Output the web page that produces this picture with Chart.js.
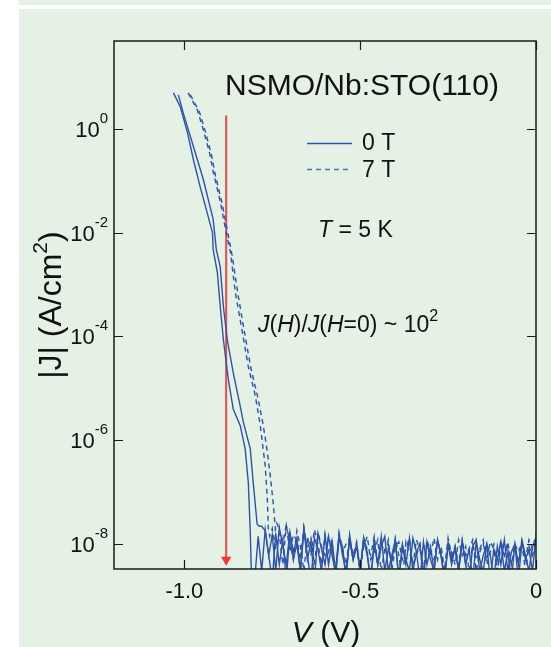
<!DOCTYPE html>
<html>
<head>
<meta charset="utf-8">
<script src="https://cdn.jsdelivr.net/npm/chart.js@4.4.0/dist/chart.umd.min.js"></script>
<style>
  body { margin: 0; background: #fff; }
  #strip { position: absolute; left: 19px; top: 0; width: 532px; height: 5px; background: #e6f1e5; }
  #panel { position: absolute; left: 19px; top: 9px; width: 532px; height: 638px; background: #e6f1e5; }
  #chart { position: absolute; left: 0; top: 0; }
</style>
</head>
<body>
<div id="strip"></div>
<div id="panel"></div>
<canvas id="chart" width="551" height="647"></canvas>
<script>
// axis ticks
const X_TICKS = [-1.0, -0.5, 0];
const X_TICK_LABELS = ['-1.0', '-0.5', '0'];
const Y_TICKS = [1, 1e-2, 1e-4, 1e-6, 1e-8];
const Y_TICK_EXP = ['0', '-2', '-4', '-6', '-8'];

// 0 T, two sweeps: steep part (V in volts, |J| in A/cm2)
const V_0T_A = [-1.031, -1.011, -0.991, -0.974, -0.955, -0.935, -0.920, -0.918, -0.906, -0.898, -0.889, -0.875, -0.861, -0.841, -0.827, -0.818, -0.8125, -0.810, -0.805];
const J_0T_A = [4.9, 2.6, 0.83, 0.25, 0.076, 0.024, 0.01, 0.0047, 0.0017, 3.8e-4, 8.7e-5, 1.5e-5, 4.0e-6, 1.9e-6, 6.8e-7, 1.5e-7, 1.7e-8, 3.8e-9, 2e-9];
const V_0T_B = [-1.017, -1.003, -0.974, -0.946, -0.918, -0.909, -0.898, -0.889, -0.878, -0.861, -0.841, -0.832, -0.8125, -0.804, -0.793, -0.787];
const J_0T_B = [4.5, 2.0, 0.45, 0.105, 0.018, 0.0047, 0.0022, 3.8e-4, 8.7e-5, 2.0e-5, 4.5e-6, 2.2e-6, 6.8e-7, 1.5e-7, 2.4e-8, 2.2e-8];

// 7 T, two sweeps
const V_7T_A = [-0.989, -0.963, -0.946, -0.929, -0.918, -0.898, -0.881, -0.869, -0.855, -0.835, -0.818, -0.798, -0.784, -0.770, -0.764, -0.761, -0.757];
const J_7T_A = [4.9, 2.3, 0.95, 0.36, 0.15, 0.04, 0.01, 0.0042, 7.1e-4, 1.2e-4, 2.6e-5, 7.1e-6, 1.9e-6, 3.2e-7, 7.4e-8, 1.9e-8, 1.4e-8];
const V_7T_B = [-0.983, -0.957, -0.940, -0.923, -0.912, -0.892, -0.875, -0.864, -0.847, -0.827, -0.810, -0.790, -0.776, -0.767, -0.756, -0.747, -0.741, -0.737];
const J_7T_B = [4.5, 2.1, 0.87, 0.32, 0.13, 0.035, 0.0087, 0.0036, 6.2e-4, 1.0e-4, 2.3e-5, 6.2e-6, 2.0e-6, 8.3e-7, 2.2e-7, 5.9e-8, 1.9e-8, 2.5e-8];

// noise floor, voltage steps and |J| in nA/cm2 (each series ends at 0 V)
const NOISE_V = [-0.80, -0.79, -0.78, -0.77, -0.76, -0.75, -0.74, -0.73, -0.72, -0.71,
  -0.70, -0.69, -0.68, -0.67, -0.66, -0.65, -0.64, -0.63, -0.62, -0.61,
  -0.60, -0.59, -0.58, -0.57, -0.56, -0.55, -0.54, -0.53, -0.52, -0.51,
  -0.50, -0.49, -0.48, -0.47, -0.46, -0.45, -0.44, -0.43, -0.42, -0.41,
  -0.40, -0.39, -0.38, -0.37, -0.36, -0.35, -0.34, -0.33, -0.32, -0.31,
  -0.30, -0.29, -0.28, -0.27, -0.26, -0.25, -0.24, -0.23, -0.22, -0.21,
  -0.20, -0.19, -0.18, -0.17, -0.16, -0.15, -0.14, -0.13, -0.12, -0.11,
  -0.10, -0.09, -0.08, -0.07, -0.06, -0.05, -0.04, -0.03, -0.02, -0.01, 0.00];
const NOISE_0T_A = [2, 14, 3, 19, 6, 2, 16, 4, 12, 2,
  17, 5, 10, 3, 20, 6, 2, 13, 8, 3,
  15, 4, 11, 2, 16, 6, 3, 12, 5, 9,
  3, 13, 6, 2, 11, 4, 14, 3, 8, 5,
  12, 2, 9, 4, 13, 3, 7, 10, 2, 11,
  5, 3, 12, 6, 2, 10, 4, 9, 3, 12,
  4, 8, 2, 11, 5, 3, 10, 6, 2, 9,
  4, 12, 3, 7, 10, 2, 11, 5, 8, 3, 14];
const NOISE_0T_B = [22, 18, 6, 15, 3, 21, 9, 4, 17, 7,
  13, 3, 19, 5, 11, 2, 16, 8, 4, 14,
  6, 3, 12, 9, 2, 15, 5, 10, 3, 13,
  7, 2, 11, 4, 9, 14, 3, 6, 12, 2,
  10, 5, 3, 13, 7, 2, 11, 4, 9, 3,
  12, 6, 2, 10, 5, 8, 3, 11, 4, 2,
  9, 12, 3, 6, 10, 2, 8, 5, 11, 3,
  7, 2, 10, 4, 12, 6, 3, 9, 11];
const NOISE_7T_A = [20, 8, 16, 4, 23, 11, 5, 18, 9, 3,
  14, 6, 19, 10, 4, 15, 7, 12, 3, 16,
  8, 4, 13, 6, 11, 3, 9, 14, 5, 7,
  12, 3, 8, 10, 4, 13, 6, 2, 11, 7,
  4, 12, 8, 3, 10, 6, 13, 5, 9, 3,
  11, 7, 4, 12, 6, 9, 3, 10, 5, 8,
  12, 4, 7, 10, 3, 9, 6, 11, 4, 8,
  5, 10, 3, 9, 6, 12];
const NOISE_7T_B = [19, 10, 24, 7, 15, 12, 5, 21, 8, 13,
  4, 17, 9, 6, 14, 11, 3, 15, 7, 10,
  13, 5, 9, 3, 12, 8, 6, 14, 4, 10,
  7, 12, 3, 9, 11, 5, 8, 13, 4, 6,
  10, 3, 12, 7, 5, 11, 8, 3, 13, 6,
  9, 4, 11, 6, 8, 12, 3, 7, 10, 5,
  11, 8, 3, 12, 6, 9, 4, 10, 7, 11,
  5, 12, 8, 16];

// red arrow at the 10^2 comparison voltage
const ARROW_V = [-0.881, -0.881];
const ARROW_J = [1.8, 5.0e-9];

const FONT = '"Liberation Sans", Arial, Helvetica, sans-serif';
const BLUE = '#2c52aa';
const INK = '#111';

function series(vs, js, noise) {
  const pts = vs.map((v, i) => ({ x: v, y: js[i] }));
  const off = NOISE_V.length - noise.length;
  noise.forEach((n, i) => pts.push({ x: NOISE_V[off + i], y: n * 1e-9 }));
  return pts;
}

function setFont(ctx, size, italic) {
  ctx.font = (italic ? 'italic ' : '') + size + 'px ' + FONT;
}

// parts: {t, i (italic), s (superscript)}
function drawRich(ctx, parts, x, y, size, align, supSize, supRise) {
  let w = 0;
  parts.forEach(p => { setFont(ctx, p.s ? supSize : size, p.i); p.w = ctx.measureText(p.t).width; w += p.w; });
  let cx = align === 'right' ? x - w : align === 'center' ? x - w / 2 : x;
  ctx.textAlign = 'left';
  ctx.textBaseline = 'alphabetic';
  parts.forEach(p => {
    setFont(ctx, p.s ? supSize : size, p.i);
    ctx.fillText(p.t, cx, p.s ? y - supRise : y);
    cx += p.w;
  });
}

const framePlugin = {
  id: 'frame',
  afterDraw(chart) {
    const ctx = chart.ctx;
    const a = chart.chartArea;
    const xs = chart.scales.x, ys = chart.scales.y;
    ctx.save();
    ctx.fillStyle = INK;
    ctx.strokeStyle = '#1a1a1a';
    ctx.lineWidth = 1.5;
    ctx.strokeRect(a.left, a.top, a.right - a.left, a.bottom - a.top);

    // inward ticks on all four sides
    const L = 9;
    ctx.beginPath();
    X_TICKS.forEach(v => {
      const px = Math.round(xs.getPixelForValue(v)) + 0.5;
      ctx.moveTo(px, a.bottom); ctx.lineTo(px, a.bottom - L);
      ctx.moveTo(px, a.top); ctx.lineTo(px, a.top + L);
    });
    Y_TICKS.forEach(v => {
      const py = Math.round(ys.getPixelForValue(v)) + 0.5;
      ctx.moveTo(a.left, py); ctx.lineTo(a.left + L, py);
      ctx.moveTo(a.right, py); ctx.lineTo(a.right - L, py);
    });
    ctx.lineWidth = 1.2;
    ctx.stroke();

    // y tick labels 10^n
    Y_TICKS.forEach((v, i) => {
      const py = ys.getPixelForValue(v);
      drawRich(ctx, [{ t: '10' }, { t: Y_TICK_EXP[i], s: true }], 108, py + 8, 22, 'right', 15, 14);
    });

    // title and notes
    drawRich(ctx, [{ t: 'NSMO/Nb:STO(110)' }], 225, 95, 30, 'left');
    drawRich(ctx, [{ t: 'T', i: true }, { t: ' = 5 K' }], 318, 237, 23, 'left');
    drawRich(ctx, [{ t: 'J', i: true }, { t: '(' }, { t: 'H', i: true }, { t: ')/' }, { t: 'J', i: true },
      { t: '(' }, { t: 'H', i: true }, { t: '=0) ~ 10' }, { t: '2', s: true }], 258, 332, 23, 'left', 16, 11);

    // legend
    ctx.strokeStyle = BLUE;
    ctx.lineWidth = 1.5;
    ctx.beginPath(); ctx.moveTo(307, 143.5); ctx.lineTo(352, 143.5); ctx.stroke();
    ctx.strokeStyle = '#4a70c0';
    ctx.setLineDash([5, 4]);
    ctx.beginPath(); ctx.moveTo(307, 169.5); ctx.lineTo(352, 169.5); ctx.stroke();
    ctx.setLineDash([]);
    drawRich(ctx, [{ t: '0 T' }], 362, 150, 23, 'left');
    drawRich(ctx, [{ t: '7 T' }], 362, 177, 23, 'left');

    // axis titles
    drawRich(ctx, [{ t: 'V', i: true }, { t: ' (V)' }], 326, 642, 30, 'center');
    ctx.translate(61, 305);
    ctx.rotate(-Math.PI / 2);
    drawRich(ctx, [{ t: '|J| (A/cm' }, { t: '2', s: true }, { t: ')' }], 0, 0, 32, 'center', 21, 14);
    ctx.restore();
  }
};

const lineStyle = { borderColor: BLUE, borderWidth: 1.4, pointRadius: 0, tension: 0, fill: false };

new Chart(document.getElementById('chart'), {
  type: 'line',
  data: {
    datasets: [
      { label: '0 T', data: series(V_0T_A, J_0T_A, NOISE_0T_A), ...lineStyle },
      { label: '0 T', data: series(V_0T_B, J_0T_B, NOISE_0T_B), ...lineStyle },
      { label: '7 T', data: series(V_7T_A, J_7T_A, NOISE_7T_A), ...lineStyle, borderDash: [5, 4] },
      { label: '7 T', data: series(V_7T_B, J_7T_B, NOISE_7T_B), ...lineStyle, borderDash: [5, 4] },
      {
        label: 'arrow', data: ARROW_V.map((v, i) => ({ x: v, y: ARROW_J[i] })),
        borderColor: '#f04848', backgroundColor: '#f03838', borderWidth: 2, tension: 0,
        pointRadius: [0, 6], pointStyle: 'triangle', pointRotation: 180, pointBorderWidth: 0
      }
    ]
  },
  options: {
    responsive: false,
    animation: false,
    layout: { padding: { left: 114, right: 15, top: 41, bottom: 78 } },
    plugins: { legend: { display: false }, tooltip: { enabled: false } },
    scales: {
      x: {
        type: 'linear', min: -1.2, max: 0, display: false
      },
      y: {
        type: 'logarithmic', min: 3.3e-9, max: 49, display: false
      }
    }
  },
  plugins: [framePlugin, {
    id: 'xlabels',
    afterDraw(chart) {
      const ctx = chart.ctx, xs = chart.scales.x, a = chart.chartArea;
      ctx.save();
      ctx.fillStyle = INK;
      X_TICKS.forEach((v, i) => {
        drawRich(ctx, [{ t: X_TICK_LABELS[i] }], xs.getPixelForValue(v), a.bottom + 29, 22, 'center');
      });
      ctx.restore();
    }
  }]
});
</script>
</body>
</html>
